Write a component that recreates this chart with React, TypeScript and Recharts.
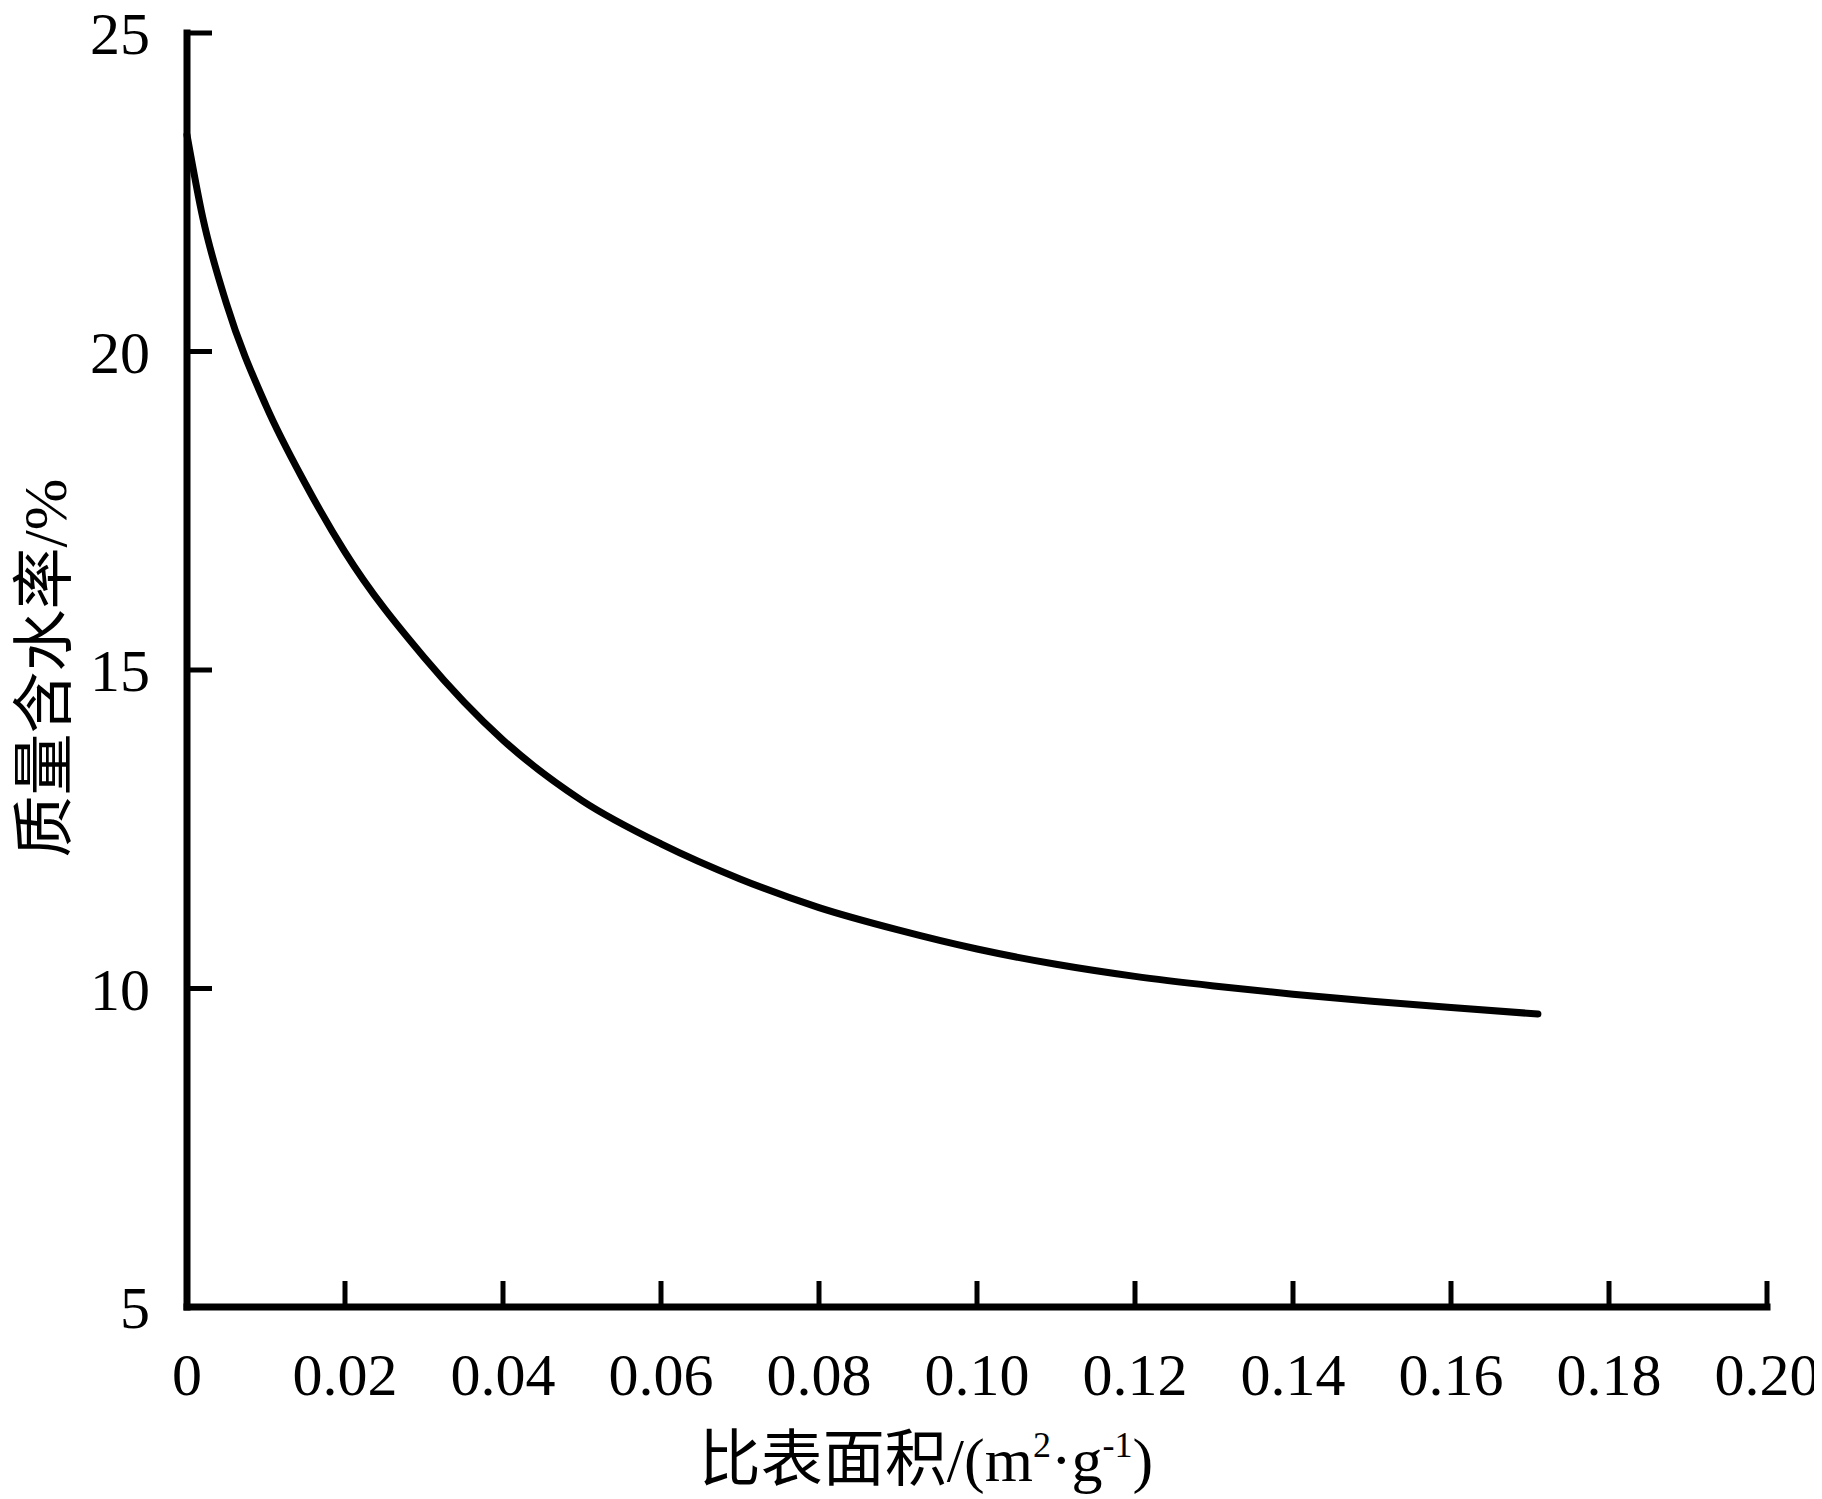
import React from 'react';
import { LineChart, Line, XAxis, YAxis, Label } from 'recharts';

// specific surface area (m2/g) and mass water content (%)
const surfaceArea = [0, 0.002, 0.005, 0.01, 0.015, 0.02, 0.03, 0.04, 0.05, 0.06, 0.07, 0.08, 0.09, 0.1, 0.11, 0.12, 0.13, 0.14, 0.15, 0.16, 0.171];
const waterContent = [23.4, 22.1, 20.75, 19.15, 17.92, 16.85, 15.2, 13.9, 12.95, 12.27, 11.72, 11.27, 10.92, 10.62, 10.38, 10.19, 10.04, 9.91, 9.8, 9.7, 9.6];

const xTicks = [0, 0.02, 0.04, 0.06, 0.08, 0.1, 0.12, 0.14, 0.16, 0.18, 0.2];
const xTickLabels = ['0', '0.02', '0.04', '0.06', '0.08', '0.10', '0.12', '0.14', '0.16', '0.18', '0.20'];
const yTicks = [5, 10, 15, 20, 25];

const data = surfaceArea.map((x, i) => ({ area: x, moisture: waterContent[i] }));

const SERIF = '"Liberation Serif", "Times New Roman", serif';
const CJK = '"Noto Sans CJK SC", sans-serif';

const XTick = (props: any) => {
  const { x, y, payload } = props;
  const idx = xTicks.indexOf(payload.value);
  return (
    <g>
      <line x1={x} y1={y} x2={x} y2={y - 26} stroke="#000" strokeWidth={5} />
      <text x={x} y={y + 88} textAnchor="middle" fontFamily={SERIF} fontSize={60} fill="#000">
        {idx >= 0 ? xTickLabels[idx] : payload.value}
      </text>
    </g>
  );
};

const YTick = (props: any) => {
  const { x, y, payload } = props;
  return (
    <g>
      <line x1={x} y1={y} x2={x + 25} y2={y} stroke="#000" strokeWidth={5} />
      <text x={x - 37} y={y + 21} textAnchor="end" fontFamily={SERIF} fontSize={60} fill="#000">
        {payload.value}
      </text>
    </g>
  );
};

const XTitle = (props: any) => {
  const vb = props.viewBox || { x: 179, y: 1299 };
  return (
    <text x={vb.x + 739} y={vb.y + 174} textAnchor="middle" fontSize={62} fill="#000">
      <tspan fontFamily={CJK}>比表面积</tspan>
      <tspan fontFamily={SERIF}>/(m</tspan>
      <tspan fontFamily={SERIF} fontSize={36} dy={-24}>2</tspan>
      <tspan fontFamily={SERIF} dy={24}>·g</tspan>
      <tspan fontFamily={SERIF} fontSize={36} dy={-24}>-1</tspan>
      <tspan fontFamily={SERIF} dy={24}>)</tspan>
    </text>
  );
};

const YTitle = () => (
  <text transform="translate(58, 660) rotate(-90)" textAnchor="middle" fontSize={62} fill="#000">
    <tspan fontFamily={CJK}>质量含水率</tspan>
    <tspan fontFamily={SERIF}>/%</tspan>
  </text>
);

const App = () => {
  return (
    <div style={{ width: 1814, height: 1491, background: '#fff' }}>
      <LineChart width={1814} height={1491} data={data} margin={{ top: 25, right: 55, bottom: 0, left: 0 }}>
        <XAxis
          dataKey="area"
          type="number"
          domain={[0, 0.2]}
          ticks={xTicks}
          height={192}
          tickSize={0}
          tickMargin={0}
          tickLine={false}
          axisLine={{ stroke: '#000', strokeWidth: 7, strokeLinecap: 'square' }}
          tick={<XTick />}
          interval={0}
        >
          <Label content={<XTitle />} />
        </XAxis>
        <YAxis
          type="number"
          domain={[5, 25]}
          ticks={yTicks}
          width={179}
          tickSize={0}
          tickMargin={0}
          tickLine={false}
          axisLine={{ stroke: '#000', strokeWidth: 7, strokeLinecap: 'square' }}
          tick={<YTick />}
          interval={0}
        >
          <Label content={<YTitle />} />
        </YAxis>
        <Line
          type="monotone"
          dataKey="moisture"
          stroke="#000"
          strokeWidth={7}
          strokeLinecap="round"
          dot={false}
          activeDot={false}
          isAnimationActive={false}
        />
      </LineChart>
    </div>
  );
};

export default App;
